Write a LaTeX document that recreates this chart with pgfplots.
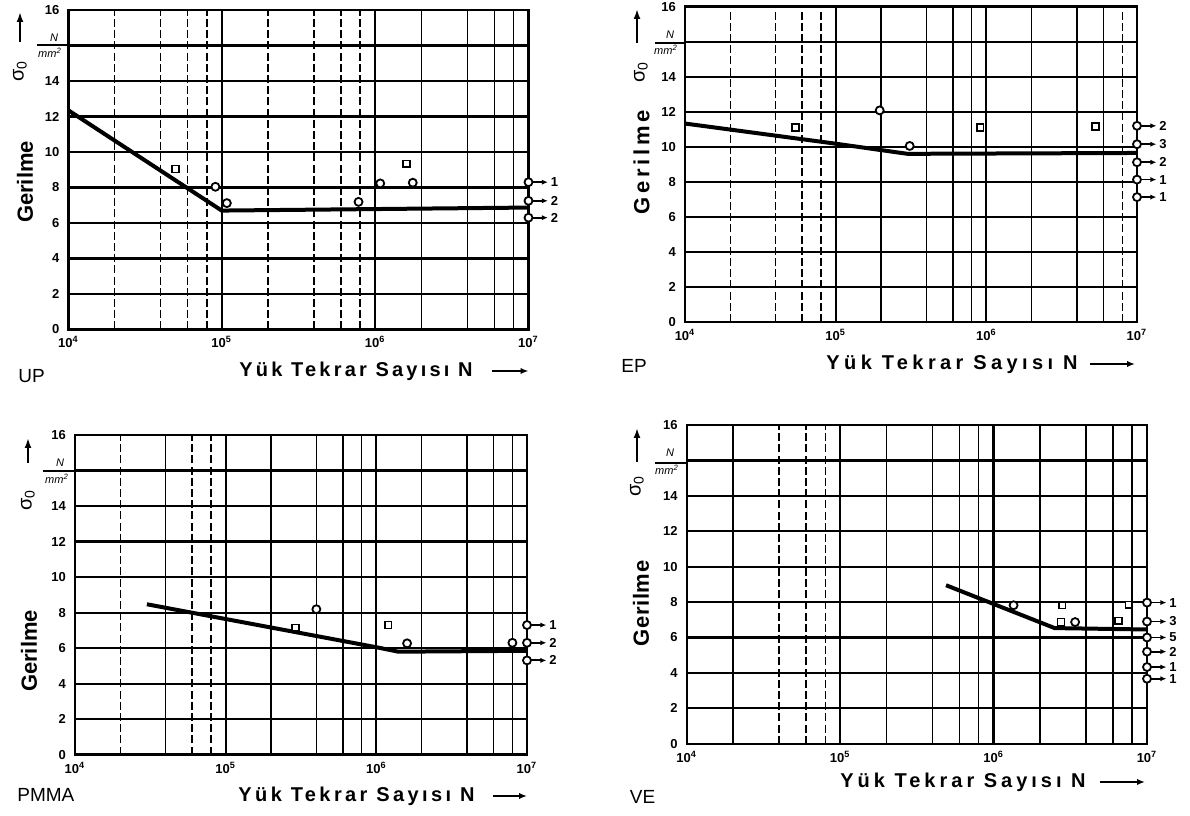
\documentclass[border=0pt]{standalone}
\usepackage{fontspec}
\setmainfont{Liberation Sans}
\usepackage{pgfplots}
\pgfplotsset{compat=1.18}
\usetikzlibrary{arrows.meta}

\pgfplotsset{
 mypanel/.style={
  scale only axis, anchor=south west,
  xmin=1e4, xmax=1e7, ymin=0, ymax=18,
  xtick={1e4,1e5,1e6,1e7},
  xticklabels={10\textsuperscript{4},10\textsuperscript{5},10\textsuperscript{6},10\textsuperscript{7}},
  ytick={0,2,...,18},
  yticklabels={0,2,4,6,8,10,12,14,,16},
  xmajorgrids, ymajorgrids, xminorgrids,
  major grid style={black, line width=1.1pt},
  minor grid style={black, line width=0.75pt},
  axis line style={black, line width=1.2pt},
  major tick length=0pt, minor tick length=0pt,
  tick label style={font=\fontsize{6.5}{7.5}\selectfont\bfseries},
  yticklabel style={xshift=-1pt},
  clip=false,
 },
 mysq/.style={only marks, mark=square*, mark size=1.7pt, mark options={fill=white, draw=black, line width=0.8pt, solid}},
 myci/.style={only marks, mark=*, mark size=2pt, mark options={fill=white, draw=black, line width=0.9pt, solid}},
 mycurve/.style={black, line width=2pt, no markers},
}
\tikzset{
 runarr/.style={line width=0.9pt, -{Latex[length=3pt,width=2.6pt]}},
 runlab/.style={right, inner sep=1pt, font=\fontsize{6.5}{7}\selectfont\bfseries},
 dgrid/.style={black, line width=0.75pt, dash pattern=on 4pt off 1.6pt},
}
\newcommand{\runout}[2]{\draw[runarr] ([xshift=2.2pt]axis cs:1e7,#1) -- ([xshift=9.7pt]axis cs:1e7,#1) node[runlab]{#2};}
\newcommand{\dline}[1]{\draw[dgrid] (axis cs:#1,0) -- (axis cs:#1,18);}
\newcommand{\xlab}[1]{{\bfseries\fontsize{10}{12}\selectfont\addfontfeatures{LetterSpace=#1}Yük Tekrar Sayısı N}}

\begin{document}
\begin{tikzpicture}
\useasboundingbox (0,0) rectangle (595pt,407.5pt);

% ---------------- UP ----------------
\begin{semilogxaxis}[mypanel, at={(34.15pt,242.75pt)}, width=230.1pt, height=159.75pt,
  minor xtick={2e6,4e6,6e6,8e6}]
\dline{2e4}\dline{4e4}\dline{6e4}\dline{8e4}\dline{2e5}\dline{4e5}\dline{6e5}\dline{8e5}
\addplot[mycurve] coordinates {(1e4,12.35) (1e5,6.7) (1e7,6.87)};
\runout{8.3}{1}\runout{7.25}{2}\runout{6.3}{2}
\addplot[mysq] coordinates {(5.0e4,9.04) (1.6e6,9.33)};
\addplot[myci] coordinates {(9.1e4,8.04) (1.08e5,7.12) (7.8e5,7.19) (1.08e6,8.23) (1.76e6,8.27)};
\addplot[myci] coordinates {(1e7,8.3) (1e7,7.25) (1e7,6.3)};
\end{semilogxaxis}

% ---------------- EP ----------------
\begin{semilogxaxis}[mypanel, at={(342.5pt,246.5pt)}, width=226pt, height=157.65pt,
  minor xtick={2e5,4e5,6e5,8e5,2e6,4e6,6e6}]
\dline{2e4}\dline{4e4}\dline{6e4}\dline{8e4}\dline{8e6}
\addplot[mycurve] coordinates {(1e4,11.33) (1e5,10.18) (3e5,9.6) (1e7,9.65)};
\runout{11.2}{2}\runout{10.15}{3}\runout{9.12}{2}\runout{8.13}{1}\runout{7.13}{1}
\addplot[mysq] coordinates {(5.4e4,11.1) (9.1e5,11.1) (5.3e6,11.16)};
\addplot[myci] coordinates {(1.96e5,12.08) (3.1e5,10.05)};
\addplot[myci] coordinates {(1e7,11.2) (1e7,10.15) (1e7,9.12) (1e7,8.13) (1e7,7.13)};
\end{semilogxaxis}

% ---------------- PMMA ----------------
\begin{semilogxaxis}[mypanel, at={(37.5pt,30.15pt)}, width=226pt, height=159.85pt,
  minor xtick={4e4,2e5,4e5,6e5,8e5,2e6,4e6,6e6,8e6}]
\dline{2e4}\dline{6e4}\dline{8e4}
\addplot[mycurve] coordinates {(3.0e4,8.47) (1e6,6.05) (1.4e6,5.8) (1e7,5.85)};
\runout{7.3}{1}\runout{6.3}{2}\runout{5.31}{2}
\addplot[mysq] coordinates {(2.9e5,7.15) (1.2e6,7.3)};
\addplot[myci] coordinates {(4.0e5,8.19) (1.6e6,6.27) (8.0e6,6.3)};
\addplot[myci] coordinates {(1e7,7.3) (1e7,6.3) (1e7,5.31)};
\end{semilogxaxis}

% ---------------- VE ----------------
\begin{semilogxaxis}[mypanel, at={(343.35pt,35.65pt)}, width=230.15pt, height=159.35pt,
  minor xtick={2e4,2e5,4e5,6e5,8e5,2e6,4e6,6e6,8e6}]
\dline{4e4}\dline{6e4}\dline{8e4}
\addplot[mycurve] coordinates {(4.9e5,8.95) (2.5e6,6.53) (1e7,6.45)};
\runout{7.97}{1}\runout{6.9}{3}\runout{6.0}{5}\runout{5.2}{2}\runout{4.33}{1}\runout{3.67}{1}
\addplot[mysq] coordinates {(2.8e6,7.82) (2.75e6,6.87) (6.5e6,6.94) (7.6e6,7.85)};
\addplot[myci] coordinates {(1.35e6,7.82) (3.4e6,6.87)};
\addplot[myci] coordinates {(1e7,7.97) (1e7,6.9) (1e7,6.0) (1e7,5.2) (1e7,4.33) (1e7,3.67)};
\end{semilogxaxis}

% ---------------- labels (pixel coordinates) ----------------
\begin{scope}[shift={(0pt,407.5pt)}, x=0.5pt, y=-0.5pt]
 \tikzset{ttl/.style={anchor=west, inner sep=0pt, font=\fontsize{9.5}{11}\selectfont},
          gl/.style={rotate=90, inner sep=0pt, font=\bfseries\fontsize{11}{12}\selectfont},
          sg/.style={rotate=90, inner sep=0pt, font=\fontsize{10}{12}\selectfont},
          uparr/.style={line width=1pt, -{Latex[length=5pt,width=3.5pt]}},
          la/.style={line width=1pt, -{Latex[length=4pt,width=3.2pt]}},
          un/.style={inner sep=0pt, font=\itshape\fontsize{5.5}{6}\selectfont}}
 % UP
 \node[ttl] at (18,376) {UP};
 \node[anchor=west, inner sep=0pt] at (239,371) {\xlab{16}};
 \draw[la] (492,371) -- (528.5,371);
 \node[gl] at (25,182) {Gerilme};
 \node[sg] at (20,71) {σ\textsubscript{0}};
 \draw[uparr] (20,42) -- (20,12);
 \draw[line width=1.1pt] (37,45) -- (68.3,45);
 \node[un] at (54,38) {N};
 \node[un] at (50,53) {mm\textsuperscript{2}};
 % EP
 \node[ttl] at (621,366) {EP};
 \node[anchor=west, inner sep=0pt] at (826,364) {\xlab{22}};
 \draw[la] (1090,364) -- (1135,364);
 \node[gl] at (641.5,162) {\addfontfeatures{LetterSpace=17}Gerilme};
 \node[sg] at (641,72) {σ\textsubscript{0}};
 \draw[uparr] (637,43) -- (637,9);
 \draw[line width=1.1pt] (655,42.7) -- (685,42.7);
 \node[un] at (670,35) {N};
 \node[un] at (666,50) {mm\textsuperscript{2}};
 % PMMA
 \node[ttl] at (17,795) {PMMA};
 \node[anchor=west, inner sep=0pt] at (238,796) {\xlab{17}};
 \draw[la] (493,796) -- (527,796);
 \node[gl] at (29,651) {Gerilme};
 \node[sg] at (28,500) {σ\textsubscript{0}};
 \draw[uparr] (28,463) -- (28,438);
 \draw[line width=1.1pt] (43,470.7) -- (75,470.7);
 \node[un] at (60,463) {N};
 \node[un] at (57,479) {mm\textsuperscript{2}};
 % VE
 \node[ttl] at (629.5,797) {VE};
 \node[anchor=west, inner sep=0pt] at (840,782) {\xlab{20}};
 \draw[la] (1100,782) -- (1145,782);
 \node[gl] at (641,603.5) {\addfontfeatures{LetterSpace=3}Gerilme};
 \node[sg] at (637,486) {σ\textsubscript{0}};
 \draw[uparr] (637,462) -- (637,428);
 \draw[line width=1.1pt] (655,462.7) -- (686.7,462.7);
 \node[un] at (670,453) {N};
 \node[un] at (667,470) {mm\textsuperscript{2}};
\end{scope}
\end{tikzpicture}
\end{document}
